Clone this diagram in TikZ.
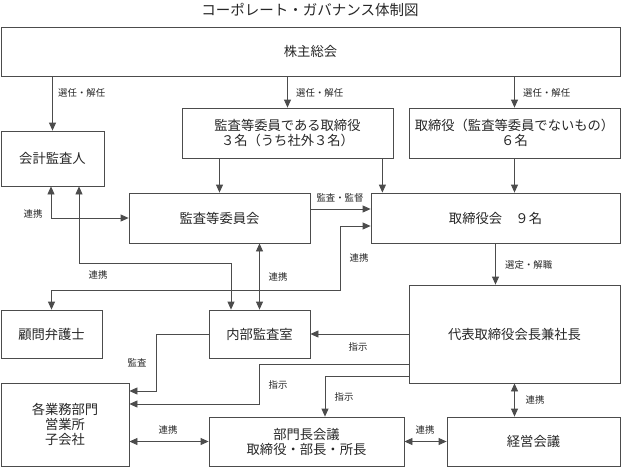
\documentclass[tikz,border=0pt]{standalone}
\usepackage{fontspec}
\setmainfont{Noto Sans CJK JP}
\usetikzlibrary{positioning,calc,arrows.meta}
\tikzset{>={Triangle[length=8pt,width=7pt]}}

\begin{document}
\begin{tikzpicture}[x=1pt,y=-1pt,
  box/.style={draw=black!70,line width=.8pt,inner sep=0pt,align=center,text=black!85,font=\fontsize{13.3}{15}\selectfont},
  lbl/.style={inner sep=0pt,text=black!85,font=\fontsize{9.4}{10}\selectfont},
  conn/.style={draw=black!70,line width=.8pt}]
\useasboundingbox (0,0) rectangle (621,467);
\node[inner sep=0pt,text=black!85,font=\fontsize{14.5}{15}\selectfont] (title) at (310,10) {コーポレート・ガバナンス体制図};
\node[box,minimum width=619pt,minimum height=49pt] (kabu) at (310.5,51.5) {株主総会};
\node[box,minimum width=211pt,minimum height=50pt] (kansa) at (287.5,133) {監査等委員である取締役\\３名（うち社外３名）};
\node[box,minimum width=211pt,minimum height=50pt] (tori) at (514.5,133) {取締役（監査等委員でないもの）\\６名};
\node[box,minimum width=103pt,minimum height=55pt] (kaikei) at (52.5,158.5) {会計監査人};
\node[box,minimum width=181pt,minimum height=50pt] (iinkai) at (219.5,218) {監査等委員会};
\node[box,minimum width=249pt,minimum height=50pt] (torikai) at (495.5,218) {取締役会　９名};
\node[box,minimum width=101pt,minimum height=48pt] (komon) at (51.5,334) {顧問弁護士};
\node[box,minimum width=101pt,minimum height=48pt] (naibu) at (259.5,334) {内部監査室};
\node[box,minimum width=211pt,minimum height=98pt] (daihyo) at (514.5,334) {代表取締役会長兼社長};
\node[box,minimum width=128pt,minimum height=83pt] (gyomu) at (65,424.5) {各業務部門\\営業所\\子会社};
\node[box,minimum width=195pt,minimum height=49pt] (bumon) at (306.5,441.5) {部門長会議\\取締役・部長・所長};
\node[box,minimum width=173pt,minimum height=49pt] (keiei) at (533.5,441.5) {経営会議};

\coordinate (rk) at (340,290);
\coordinate (kn) at (231,263);
\coordinate (m1) at (156,391);
\coordinate (m2) at (259,404);

\draw[conn,->] (kabu.south -| kaikei.north) -- (kaikei.north);
\draw[conn,->] (kabu.south -| kansa.north) -- (kansa.north);
\draw[conn,->] (kabu.south -| tori.north) -- (tori.north);
\draw[conn,->] (kansa.south -| iinkai.north) -- (iinkai.north);
\draw[conn,->] ([xshift=-11pt]kansa.south east) -- ([xshift=-11pt]kansa.south east |- torikai.north);
\draw[conn,->] (tori.south) -- (tori.south |- torikai.north);
\draw[conn,->] ([yshift=9pt]iinkai.east) -- ([yshift=9pt]iinkai.east -| torikai.west);
\draw[conn,<->] ([yshift=-8pt]torikai.west) -| (rk) -| (komon.north);
\draw[conn,<->] ([xshift=-1.5pt]kaikei.south) |- (iinkai.west);
\draw[conn,<->] ([xshift=26.5pt]kaikei.south) |- (kn) -- (kn |- naibu.north);
\draw[conn,<->] (iinkai.south -| naibu.north) -- (naibu.north);
\draw[conn,->] (torikai.south) -- (torikai.south |- daihyo.north);
\draw[conn,->] (daihyo.west) -- (naibu.east);
\draw[conn,->] (naibu.west) -| (m1) -- (m1 -| gyomu.east);
\draw[conn,->] ([yshift=-30pt]daihyo.west) -| (m2) -- (m2 -| gyomu.east);
\draw[conn,->] ([yshift=-42pt]daihyo.west) -| ([xshift=18.5pt]bumon.north);
\draw[conn,<->] (daihyo.south) -- (daihyo.south |- keiei.north);
\draw[conn,<->] (gyomu.east |- bumon.west) -- (bumon.west);
\draw[conn,<->] (bumon.east) -- (keiei.west);

\node[lbl,anchor=west] (l-sen1) at (58,93) {選任・解任};
\node[lbl,anchor=west] (l-sen2) at (296,93) {選任・解任};
\node[lbl,anchor=west] (l-sen3) at (523,93) {選任・解任};
\node[lbl] (l-kansa) at (340,198) {監査・監督};
\node[lbl] (l-ren1) at (359,258) {連携};
\node[lbl] (l-ren2) at (33,214) {連携};
\node[lbl] (l-ren3) at (98,275) {連携};
\node[lbl] (l-ren4) at (278,277) {連携};
\node[lbl,anchor=west] (l-sentei) at (505,265) {選定・解職};
\node[lbl] (l-shiji1) at (358,347) {指示};
\node[lbl] (l-kansa2) at (137,363) {監査};
\node[lbl] (l-shiji2) at (278,385) {指示};
\node[lbl] (l-shiji3) at (344,397) {指示};
\node[lbl] (l-ren5) at (535,400) {連携};
\node[lbl] (l-ren6) at (168,430) {連携};
\node[lbl] (l-ren7) at (425,430) {連携};
\end{tikzpicture}
\end{document}
